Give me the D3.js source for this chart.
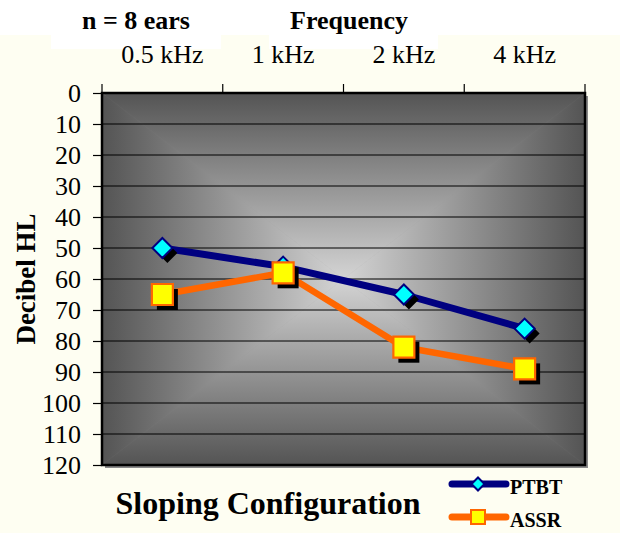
<!DOCTYPE html>
<html>
<head>
<meta charset="utf-8">
<script src="https://cdn.jsdelivr.net/npm/d3@7"></script>
<style>
  html, body { margin: 0; padding: 0; background: #fefef2; }
  svg { display: block; }
  text { font-family: "Liberation Serif", "Times New Roman", serif; fill: #000; }
</style>
</head>
<body>
<svg id="chart" width="620" height="533"></svg>
<script>
// Hearing thresholds (dB HL) per test frequency
const frequencies = ["0.5 kHz", "1 kHz", "2 kHz", "4 kHz"];
const ptbt = [50, 56, 65, 76];
const assr = [65, 58, 82, 89];
const yTickValues = [0, 10, 20, 30, 40, 50, 60, 70, 80, 90, 100, 110, 120];
const seriesNames = ["PTBT", "ASSR"];

const svg = d3.select("#chart");
const W = 620, H = 533;
const plot = { left: 102, right: 585, top: 93, bottom: 465 };

const x = d3.scaleBand().domain(frequencies).range([plot.left, plot.right]);
const y = d3.scaleLinear().domain([0, 120]).range([plot.top, plot.bottom]);

// page background
svg.append("rect").attr("width", W).attr("height", H).attr("fill", "#fefef2");
svg.append("rect").attr("width", W).attr("height", 35).attr("fill", "#ffffff");
svg.append("rect").attr("x", 51).attr("y", 0).attr("width", 170).attr("height", 49).attr("fill", "#ffffff");
svg.append("rect").attr("x", 269).attr("y", 0).attr("width", 169).attr("height", 49).attr("fill", "#ffffff");

// headings
svg.append("text").attr("x", 136).attr("y", 29).attr("text-anchor", "middle")
  .attr("font-size", 26).attr("font-weight", "bold").text("n = 8 ears");
svg.append("text").attr("x", 349).attr("y", 29).attr("text-anchor", "middle")
  .attr("font-size", 26).attr("font-weight", "bold").text("Frequency");

// plot area: drop shadow + rectangular (centre-out) gradient
const defs = svg.append("defs");
const cx = (plot.left + plot.right) / 2, cy = (plot.top + plot.bottom) / 2;
const edgeCol = "#545454", midCol = "#d4d4d4";
function grad(id, x1, y1, x2, y2) {
  const g = defs.append("linearGradient").attr("id", id).attr("gradientUnits", "userSpaceOnUse")
    .attr("x1", x1).attr("y1", y1).attr("x2", x2).attr("y2", y2);
  g.append("stop").attr("offset", 0).attr("stop-color", edgeCol);
  g.append("stop").attr("offset", 1).attr("stop-color", midCol);
}
grad("gTop", cx, plot.top, cx, cy);
grad("gBot", cx, plot.bottom, cx, cy);
grad("gLeft", plot.left, cy, cx, cy);
grad("gRight", plot.right, cy, cx, cy);

svg.append("rect").attr("x", plot.left + 3).attr("y", plot.top + 3)
  .attr("width", plot.right - plot.left).attr("height", plot.bottom - plot.top)
  .attr("fill", "#8a8a8a");

const bg = svg.append("g");
const L = plot.left, R = plot.right, T = plot.top, B = plot.bottom;
const tri = (pts, fill) => bg.append("polygon")
  .attr("points", pts.map(p => p.join(",")).join(" "))
  .attr("fill", fill).attr("stroke", fill).attr("stroke-width", 0.6);
tri([[L, T], [R, T], [cx, cy]], "url(#gTop)");
tri([[L, B], [R, B], [cx, cy]], "url(#gBot)");
tri([[L, T], [L, B], [cx, cy]], "url(#gLeft)");
tri([[R, T], [R, B], [cx, cy]], "url(#gRight)");

// horizontal gridlines
svg.append("g").selectAll("line")
  .data(yTickValues.filter(v => v > 0 && v < 120))
  .join("line")
  .attr("x1", plot.left).attr("x2", plot.right)
  .attr("y1", d => y(d)).attr("y2", d => y(d))
  .attr("stroke", "#000").attr("stroke-width", 1);

// plot border
svg.append("rect").attr("x", plot.left).attr("y", plot.top)
  .attr("width", plot.right - plot.left).attr("height", plot.bottom - plot.top)
  .attr("fill", "none").attr("stroke", "#000").attr("stroke-width", 2.5);

// left axis (dB HL)
const yAxis = svg.append("g").attr("transform", `translate(${plot.left},0)`)
  .call(d3.axisLeft(y).tickValues(yTickValues).tickSize(9).tickPadding(12));
yAxis.select(".domain").remove();
yAxis.selectAll("line").attr("stroke", "#000").attr("stroke-width", 1.2);
yAxis.selectAll("text").attr("font-size", 26).attr("font-family", "Liberation Serif");

// top axis: labels centred on each band, ticks at the band boundaries
const xAxis = svg.append("g").attr("transform", `translate(0,${plot.top})`)
  .call(d3.axisTop(x).tickSize(0).tickPadding(30));
xAxis.select(".domain").remove();
xAxis.selectAll("text").attr("font-size", 26).attr("font-family", "Liberation Serif");
const boundaries = frequencies.map(f => x(f)).concat([x.range()[1]]);
svg.append("g").selectAll("line").data(boundaries).join("line")
  .attr("x1", d => d).attr("x2", d => d)
  .attr("y1", plot.top - 9).attr("y2", plot.top)
  .attr("stroke", "#000").attr("stroke-width", 1.2);

// y title
svg.append("text").attr("transform", `translate(35,279) rotate(-90)`)
  .attr("text-anchor", "middle").attr("font-size", 27).attr("font-weight", "bold")
  .text("Decibel HL");

// series
const cxOf = i => x(frequencies[i]) + x.bandwidth() / 2;
const line = d3.line().x((d, i) => cxOf(i)).y(d => y(d));

const diamond = (s) => `M0,${-s}L${s},0L0,${s}L${-s},0Z`;
const square = (s) => `M${-s},${-s}H${s}V${s}H${-s}Z`;

const series = [
  { name: seriesNames[0], values: ptbt, color: "#000080", width: 7,
    shape: diamond(10), fill: "#00ffff", stroke: "#000080", sw: 2 },
  { name: seriesNames[1], values: assr, color: "#ff6600", width: 6.5,
    shape: square(10.5), fill: "#ffff00", stroke: "#ff6600", sw: 2.2 }
];

series.forEach(s => {
  const g = svg.append("g");
  g.append("path").attr("d", line(s.values)).attr("fill", "none")
    .attr("stroke", s.color).attr("stroke-width", s.width).attr("stroke-linejoin", "round");
  g.selectAll(".shadow").data(s.values).join("path").attr("class", "shadow")
    .attr("d", s.shape).attr("transform", (d, i) => `translate(${cxOf(i) + 5},${y(d) + 5})`)
    .attr("fill", "#000");
  g.selectAll(".mark").data(s.values).join("path").attr("class", "mark")
    .attr("d", s.shape).attr("transform", (d, i) => `translate(${cxOf(i)},${y(d)})`)
    .attr("fill", s.fill).attr("stroke", s.stroke).attr("stroke-width", s.sw);
});

// bottom caption
svg.append("text").attr("x", 268).attr("y", 514).attr("text-anchor", "middle")
  .attr("font-size", 32).attr("font-weight", "bold").text("Sloping Configuration");

// legend
const legendY = [484, 517];
const legendMarks = [diamond(6.5), square(7)];
series.forEach((s, i) => {
  const g = svg.append("g").attr("transform", `translate(0,${legendY[i]})`);
  g.append("line").attr("x1", 452).attr("x2", 506).attr("y1", 0).attr("y2", 0)
    .attr("stroke", s.color).attr("stroke-width", 7).attr("stroke-linecap", "round");
  g.append("path").attr("d", legendMarks[i]).attr("transform", "translate(478,0)")
    .attr("fill", s.fill).attr("stroke", s.stroke).attr("stroke-width", 2);
  g.append("text").attr("x", 510).attr("y", 10).attr("font-size", 20)
    .attr("font-weight", "bold").text(s.name);
});
</script>
</body>
</html>
